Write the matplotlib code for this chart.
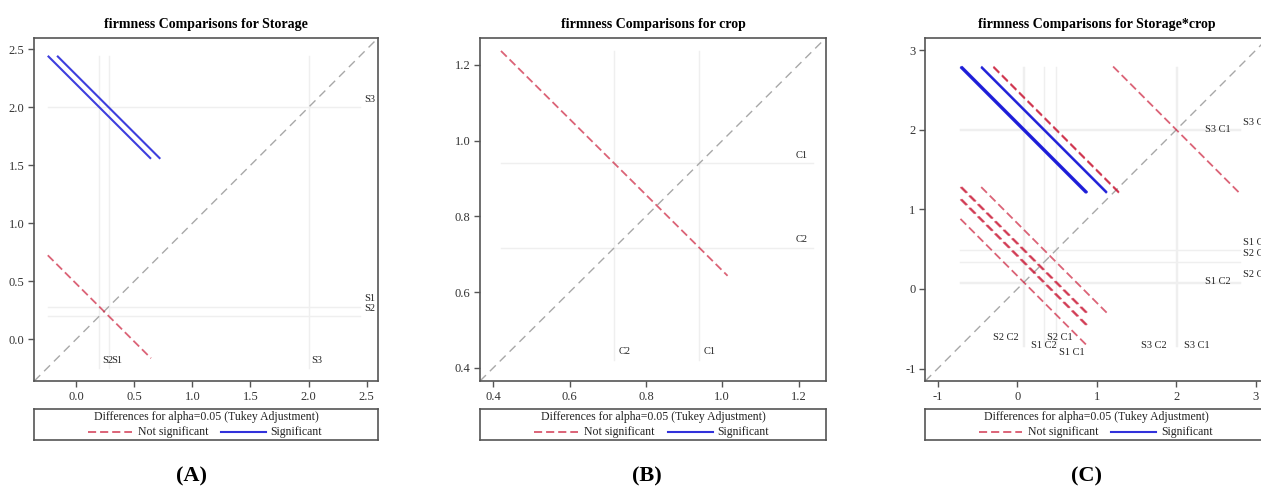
import numpy as np
import matplotlib.pyplot as plt
from itertools import combinations

plt.rcParams['font.family'] = ['Liberation Serif', 'DejaVu Serif']

# LS-means of firmness
storage_levels = ['S1', 'S2', 'S3']
storage_means = [0.28, 0.20, 2.00]

crop_levels = ['C1', 'C2']
crop_means = [0.94, 0.717]

inter_levels = ['S1 C1', 'S1 C2', 'S2 C1', 'S2 C2', 'S3 C1', 'S3 C2']
inter_means = [0.49, 0.09, 0.336, 0.075, 2.005, 1.995]

# half-width of the Tukey CI for a difference (same for every pair in a panel)
ci_halfwidth = [0.888, 0.594, 1.58]

titles = ['firmness Comparisons for Storage', 'firmness Comparisons for crop',
          'firmness Comparisons for Storage*crop']
panel_tags = ['(A)', '(B)', '(C)']

W, H = 1261, 491
RED = '#c8102e'
BLUE = '#1c1cd8'
GRID = '#efefef'
DARK = '#555555'


def diffogram(ax, levels, means, w, lims, ticks, fmt, right_place, bottom_place):
    means = np.array(means)
    h = w / 2
    lo, hi = means.min() - h, means.max() + h
    for m in means:
        ax.plot([lo, hi], [m, m], color=GRID, lw=1, zorder=1)
        ax.plot([m, m], [lo, hi], color=GRID, lw=1, zorder=1)
    ax.plot(lims, lims, color='#a8a8a8', lw=1, dashes=(6, 4), zorder=2)
    for i, j in combinations(range(len(means)), 2):
        x, y = sorted([means[i], means[j]])
        sig = (y - x) > w
        if sig:
            ax.plot([x - h, x + h], [y + h, y - h], color=BLUE, lw=1.5,
                    alpha=0.85, solid_capstyle='butt', zorder=3)
        else:
            ax.plot([x - h, x + h], [y + h, y - h], color=RED, lw=1.3,
                    alpha=0.65, dashes=(4.5, 2.2), zorder=3)
    for lev, m in zip(levels, means):
        ha, dx, dy = right_place[lev]
        ax.annotate(lev, (hi, m), xytext=(dx, dy), textcoords='offset pixels',
                    ha=ha, va='center', fontsize=7.5, color='#222222')
        ha, dx, dy = bottom_place[lev]
        ax.annotate(lev, (m, lo), xytext=(dx, dy), textcoords='offset pixels',
                    ha=ha, va='center', fontsize=7.5, color='#222222')
    ax.set_xlim(lims)
    ax.set_ylim(lims)
    ax.set_xticks(ticks)
    ax.set_yticks(ticks)
    ax.set_xticklabels([fmt.format(t) for t in ticks])
    ax.set_yticklabels([fmt.format(t) for t in ticks])
    for s in ax.spines.values():
        s.set_color(DARK)
        s.set_linewidth(1.2)
    ax.tick_params(direction='out', length=4, width=1, color=DARK,
                   labelsize=9, labelcolor='#333333', pad=3)


def legend_box(fig, left, width):
    lax = fig.add_axes([left / W, (H - 440) / H, width / W, 30.7 / H])
    lax.set_xlim(0, 1)
    lax.set_ylim(0, 1)
    lax.set_xticks([])
    lax.set_yticks([])
    for s in lax.spines.values():
        s.set_color(DARK)
        s.set_linewidth(1.2)
    lax.text(0.5, 0.75, 'Differences for alpha=0.05 (Tukey Adjustment)',
             ha='center', va='center', fontsize=8.5, color='#222222')
    lax.plot([0.156, 0.283], [0.26, 0.26], color=RED, lw=1.3, alpha=0.7,
             dashes=(4.5, 2.2))
    lax.text(0.30, 0.26, 'Not significant', ha='left', va='center',
             fontsize=8.5, color='#222222')
    lax.plot([0.542, 0.673], [0.26, 0.26], color=BLUE, lw=1.5, alpha=0.9)
    lax.text(0.687, 0.26, 'Significant', ha='left', va='center',
             fontsize=8.5, color='#222222')


fig = plt.figure(figsize=(W / 100, H / 100), dpi=100)
bottom = (H - 381) / H
height = 343.3 / H

panels = [
    dict(left=34.3, width=344, levels=storage_levels, means=storage_means,
         lims=[-0.36, 2.60], ticks=[0.0, 0.5, 1.0, 1.5, 2.0, 2.5], fmt='{:.1f}',
         right={k: ('left', 4, 8) for k in storage_levels},
         bottom={k: ('left', 3, 7) for k in storage_levels}, tag_x=192),
    dict(left=480, width=346, levels=crop_levels, means=crop_means,
         lims=[0.365, 1.272], ticks=[0.4, 0.6, 0.8, 1.0, 1.2], fmt='{:.1f}',
         right={k: ('right', -5, 8) for k in crop_levels},
         bottom={k: ('left', 4, 9) for k in crop_levels}, tag_x=647),
    dict(left=925.3, width=343, levels=inter_levels, means=inter_means,
         lims=[-1.157, 3.157], ticks=[-1, 0, 1, 2, 3], fmt='{:.0f}',
         right={'S3 C1': ('right', -9, 0), 'S1 C2': ('right', -9, 0),
                'S3 C2': ('left', 3, 8), 'S1 C1': ('left', 3, 7),
                'S2 C1': ('left', 3, 9), 'S2 C2': ('left', 3, 8)},
         bottom={'S2 C2': ('right', -5, 8), 'S1 C2': ('left', 7, 0),
                 'S2 C1': ('left', 3, 8), 'S1 C1': ('left', 3, -7),
                 'S3 C2': ('right', -9, 0), 'S3 C1': ('left', 7, 0)}, tag_x=1087),
]

for k, p in enumerate(panels):
    ax = fig.add_axes([p['left'] / W, bottom, p['width'] / W, height])
    diffogram(ax, p['levels'], p['means'], ci_halfwidth[k], p['lims'],
              p['ticks'], p['fmt'], p['right'], p['bottom'])
    ax.set_title(titles[k], fontsize=10, fontweight='bold', pad=7)
    legend_box(fig, p['left'], p['width'])
    fig.text(p['tag_x'] / W, 1 - 476 / H, panel_tags[k], ha='center',
             va='center', fontsize=16, fontweight='bold')

fig.savefig('out.png', dpi=100)
